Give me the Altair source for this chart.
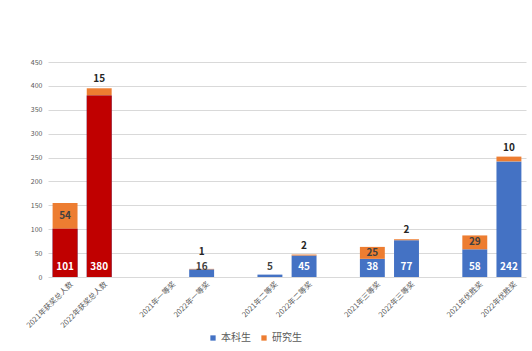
import altair as alt
import pandas as pd

categories = ["2021年获奖总人数", "2022年获奖总人数", " ", "2021年一等奖", "2022年一等奖", "  ",
              "2021年二等奖", "2022年二等奖", "   ", "2021年三等奖", "2022年三等奖", "    ",
              "2021年优胜奖", "2022年优胜奖"]
data_cats = ["2021年获奖总人数", "2022年获奖总人数", "2022年一等奖", "2021年二等奖", "2022年二等奖",
             "2021年三等奖", "2022年三等奖", "2021年优胜奖", "2022年优胜奖"]
benke = [101, 380, 16, 5, 45, 38, 77, 58, 242]
yanjiu = [54, 15, 1, 0, 2, 25, 2, 29, 10]
total_cats = ["2021年获奖总人数", "2022年获奖总人数"]
series = ["本科生", "研究生"]

BLUE, ORANGE, RED = "#4472C4", "#ED7D31", "#C00000"

df = pd.DataFrame({"cat": data_cats, "bk": benke, "yj": yanjiu})

x = alt.X("cat:N", scale=alt.Scale(domain=categories, paddingInner=0.27, paddingOuter=0.135),
          axis=alt.Axis(title=None, labelAngle=-45, labelAlign="right", labelBaseline="top",
                        labelFontSize=7.5, labelColor="#595959", ticks=False, domain=False,
                        labelPadding=3, labelOffset=4))
yscale = alt.Scale(domain=[0, 450], nice=False)
yaxis = alt.Axis(title=None, values=list(range(0, 451, 50)), labelFontSize=7, labelColor="#595959",
                 ticks=False, domain=False, gridColor="#D9D9D9", labelPadding=6, labelOverlap=False)


def Y(field):
    return alt.Y(field, type="quantitative", scale=yscale, axis=yaxis)


cscale = alt.Scale(domain=series, range=[BLUE, ORANGE])
clegend = alt.Legend(title=None, orient="none", direction="horizontal",
                     legendX=160, legendY=271, symbolType="square", symbolSize=28,
                     labelFontSize=10, labelColor="#595959", columnPadding=8, labelOffset=3,
                     symbolStrokeWidth=0)
color = alt.Color("s:N", scale=cscale, legend=clegend)

base = alt.Chart(df).transform_calculate(
    tot="datum.bk + datum.yj", mid="datum.bk + datum.yj/2", zero="0",
    topy="max(datum.bk + datum.yj, 34)")

bk_bar = base.transform_calculate(s="'本科生'").mark_bar().encode(
    x=x, y=Y("zero"), y2="bk:Q", color=color)
yj_bar = base.transform_calculate(s="'研究生'").mark_bar().encode(
    x=x, y=Y("bk"), y2="tot:Q", color=color)
red_bar = base.transform_filter(alt.FieldOneOfPredicate(field="cat", oneOf=total_cats)).mark_bar(color=RED).encode(
    x=x, y=Y("zero"), y2="bk:Q")

bk_text = base.transform_filter("datum.bk > 0").mark_text(dy=-10, fontSize=10, fontWeight="bold", baseline="middle").encode(
    x=x, y=Y("zero"), text="bk:Q",
    color=alt.condition("datum.bk >= 20", alt.value("white"), alt.value("#404040")))
yj_mid = base.transform_filter("datum.yj >= 20").mark_text(fontSize=10, fontWeight="bold", baseline="middle", color="#404040").encode(
    x=x, y=Y("mid"), text="yj:Q")
yj_top = base.transform_filter("datum.yj > 0 && datum.yj < 20").mark_text(dy=-9, fontSize=10, fontWeight="bold", baseline="middle", color="#262626").encode(
    x=x, y=Y("topy"), text="yj:Q")

chart = alt.layer(bk_bar, yj_bar, red_bar, bk_text, yj_mid, yj_top).properties(
    width=478, height=215,
    autosize=alt.AutoSizeParams(type="none"),
    padding={"left": 48, "top": 62, "right": 6, "bottom": 74},
).configure(font="Noto Sans CJK SC").configure_view(stroke=None)

chart.save("out.html", embed_options={"renderer": "svg", "actions": False})
